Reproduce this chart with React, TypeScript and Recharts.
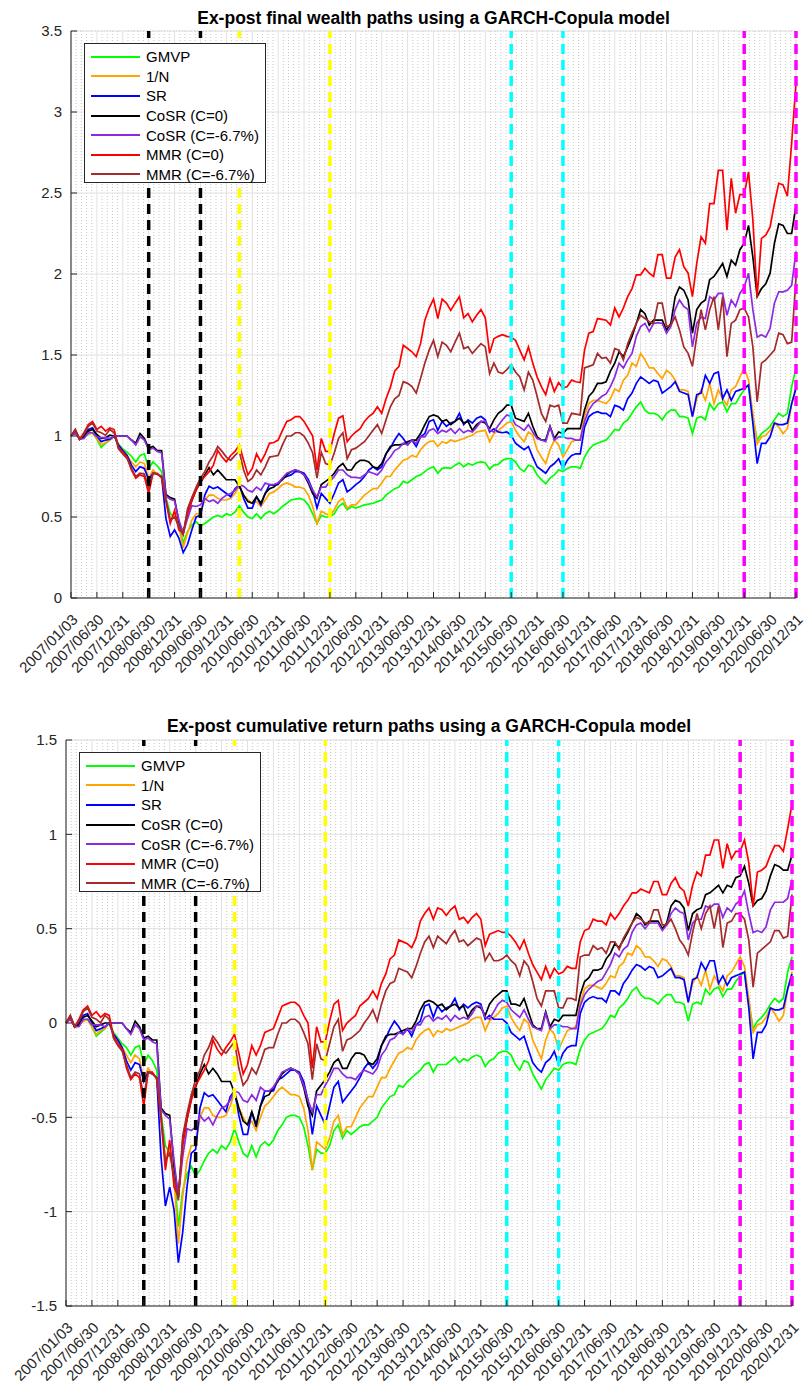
import React from "react";
import { LineChart, Line, XAxis, YAxis, CartesianGrid, ReferenceLine } from "recharts";

// one point per month: index 0 = 2007/01/03, then month ends up to 2020/12/31 (index 168)
const tickLabels = [
  "2007/01/03", "2007/06/30", "2007/12/31", "2008/06/30", "2008/12/31", "2009/06/30",
  "2009/12/31", "2010/06/30", "2010/12/31", "2011/06/30", "2011/12/31", "2012/06/30",
  "2012/12/31", "2013/06/30", "2013/12/31", "2014/06/30", "2014/12/31", "2015/06/30",
  "2015/12/31", "2016/06/30", "2016/12/31", "2017/06/30", "2017/12/31", "2018/06/30",
  "2018/12/31", "2019/06/30", "2019/12/31", "2020/06/30", "2020/12/31",
];

const seriesNames = ["GMVP", "1/N", "SR", "CoSR (C=0)", "CoSR (C=-6.7%)", "MMR (C=0)", "MMR (C=-6.7%)"];

// crisis windows (month index)
const gfcMonths = [18, 30];
const euroMonths = [39, 60];
const chinaMonths = [102, 114];
const covidMonths = [156, 168];

const wealthTicks = [0, 0.5, 1, 1.5, 2, 2.5, 3, 3.5];
const cumTicks = [-1.5, -1, -0.5, 0, 0.5, 1, 1.5];

// ---- final wealth (top panel)
const gmvpWealth = [1.00,
  1.03, 0.98, 0.995, 1.01, 1.02, 0.98, 0.93, 0.955, 0.975, 1.00, 0.95, 0.92,
  0.90, 0.875, 0.84, 0.88, 0.89, 0.80, 0.84, 0.815, 0.78, 0.62, 0.52, 0.50,
  0.46, 0.34, 0.41, 0.45, 0.47, 0.445, 0.46, 0.48, 0.50, 0.51, 0.50, 0.52,
  0.51, 0.53, 0.57, 0.53, 0.50, 0.49, 0.52, 0.49, 0.52, 0.535, 0.52, 0.54,
  0.565, 0.585, 0.605, 0.61, 0.615, 0.605, 0.575, 0.52, 0.46, 0.51, 0.50, 0.50,
  0.52, 0.565, 0.585, 0.545, 0.565, 0.555, 0.565, 0.575, 0.58, 0.585, 0.595, 0.605,
  0.635, 0.655, 0.675, 0.685, 0.72, 0.71, 0.73, 0.75, 0.76, 0.78, 0.80, 0.81,
  0.77, 0.80, 0.805, 0.80, 0.82, 0.835, 0.81, 0.83, 0.82, 0.835, 0.84, 0.835,
  0.795, 0.82, 0.825, 0.85, 0.86, 0.86, 0.84, 0.80, 0.78, 0.82, 0.81, 0.76,
  0.73, 0.705, 0.74, 0.76, 0.79, 0.78, 0.80, 0.81, 0.81, 0.80, 0.87, 0.915,
  0.945, 0.955, 0.965, 0.975, 1.005, 1.04, 1.035, 1.08, 1.10, 1.14, 1.18, 1.21,
  1.16, 1.14, 1.14, 1.13, 1.10, 1.14, 1.16, 1.16, 1.12, 1.12, 1.11, 1.015,
  1.11, 1.12, 1.10, 1.20, 1.16, 1.20, 1.21, 1.15, 1.20, 1.20, 1.245, 1.285,
  1.315, 1.12, 0.975, 1.015, 1.035, 1.06, 1.10, 1.14, 1.12, 1.14, 1.305, 1.42,
];
const equalWealth = [1.00,
  1.03, 0.98, 0.995, 1.015, 1.02, 0.985, 0.945, 0.96, 0.975, 1.00, 0.945, 0.91,
  0.88, 0.84, 0.81, 0.84, 0.83, 0.74, 0.79, 0.76, 0.75, 0.60, 0.48, 0.52,
  0.44, 0.31, 0.40, 0.48, 0.52, 0.52, 0.605, 0.635, 0.635, 0.615, 0.605, 0.605,
  0.615, 0.645, 0.69, 0.635, 0.605, 0.585, 0.595, 0.565, 0.605, 0.645, 0.655, 0.675,
  0.70, 0.71, 0.70, 0.685, 0.685, 0.675, 0.635, 0.565, 0.46, 0.535, 0.52, 0.51,
  0.545, 0.595, 0.615, 0.555, 0.575, 0.575, 0.605, 0.635, 0.655, 0.675, 0.675, 0.71,
  0.75, 0.75, 0.79, 0.82, 0.85, 0.86, 0.88, 0.87, 0.915, 0.945, 0.965, 0.97,
  0.935, 0.965, 0.955, 0.975, 0.965, 0.975, 0.985, 0.995, 1.005, 1.025, 1.03, 1.035,
  0.965, 1.015, 1.035, 1.055, 1.08, 1.09, 1.035, 0.995, 0.965, 1.025, 1.005, 0.915,
  0.87, 0.83, 0.915, 0.975, 0.945, 0.87, 0.915, 0.965, 0.975, 0.98, 1.12, 1.20,
  1.22, 1.22, 1.21, 1.20, 1.23, 1.29, 1.275, 1.345, 1.375, 1.45, 1.43, 1.51,
  1.47, 1.42, 1.42, 1.385, 1.355, 1.405, 1.385, 1.345, 1.285, 1.285, 1.275, 1.12,
  1.23, 1.285, 1.22, 1.325, 1.20, 1.285, 1.23, 1.19, 1.285, 1.305, 1.365, 1.42,
  1.345, 1.14, 0.95, 0.995, 1.005, 1.035, 1.08, 1.055, 1.015, 1.045, 1.20, 1.305,
];
const srWealth = [1.00,
  1.03, 0.98, 1.00, 1.04, 1.05, 1.00, 0.965, 0.975, 0.98, 1.00, 0.945, 0.91,
  0.88, 0.82, 0.78, 0.81, 0.80, 0.73, 0.77, 0.765, 0.75, 0.49, 0.38, 0.42,
  0.37, 0.28, 0.33, 0.42, 0.50, 0.51, 0.635, 0.69, 0.675, 0.685, 0.665, 0.645,
  0.625, 0.675, 0.70, 0.615, 0.555, 0.555, 0.625, 0.575, 0.645, 0.70, 0.695, 0.70,
  0.74, 0.75, 0.76, 0.78, 0.78, 0.77, 0.73, 0.665, 0.555, 0.645, 0.615, 0.585,
  0.645, 0.71, 0.73, 0.655, 0.675, 0.70, 0.72, 0.75, 0.79, 0.81, 0.79, 0.81,
  0.89, 0.925, 0.975, 1.015, 0.985, 0.945, 0.975, 0.935, 0.995, 1.015, 1.09, 1.10,
  1.035, 1.09, 1.06, 1.08, 1.09, 1.14, 1.07, 1.10, 1.08, 1.11, 1.12, 1.10,
  1.025, 1.045, 1.025, 1.02, 1.025, 1.005, 0.955, 0.935, 0.915, 0.935, 0.87, 0.81,
  0.79, 0.77, 0.81, 0.83, 0.86, 0.80, 0.85, 0.88, 0.89, 0.89, 1.055, 1.12,
  1.14, 1.15, 1.14, 1.14, 1.12, 1.19, 1.18, 1.16, 1.23, 1.265, 1.325, 1.365,
  1.345, 1.325, 1.345, 1.335, 1.265, 1.285, 1.305, 1.335, 1.275, 1.265, 1.255, 1.12,
  1.255, 1.265, 1.375, 1.325, 1.385, 1.395, 1.23, 1.285, 1.22, 1.275, 1.285, 1.295,
  1.315, 1.08, 0.83, 0.955, 0.955, 0.995, 1.08, 1.07, 1.07, 1.08, 1.20, 1.295,
];
const cosr0Wealth = [1.00,
  1.03, 0.98, 0.995, 1.03, 1.04, 1.01, 0.985, 0.99, 1.005, 1.00, 1.00, 1.00,
  1.00, 0.975, 0.955, 1.015, 0.985, 0.925, 0.935, 0.91, 0.91, 0.64, 0.62, 0.61,
  0.47, 0.40, 0.53, 0.60, 0.67, 0.71, 0.76, 0.805, 0.76, 0.79, 0.76, 0.73,
  0.73, 0.73, 0.69, 0.635, 0.595, 0.585, 0.625, 0.585, 0.645, 0.675, 0.685, 0.71,
  0.73, 0.76, 0.78, 0.79, 0.78, 0.76, 0.71, 0.645, 0.615, 0.70, 0.72, 0.74,
  0.77, 0.81, 0.83, 0.79, 0.79, 0.83, 0.85, 0.85, 0.84, 0.81, 0.80, 0.83,
  0.89, 0.935, 0.945, 0.945, 0.95, 0.965, 0.975, 0.975, 1.015, 1.07, 1.12, 1.13,
  1.12, 1.09, 1.10, 1.07, 1.09, 1.11, 1.08, 1.09, 1.035, 1.07, 1.09, 1.08,
  1.045, 1.10, 1.14, 1.16, 1.19, 1.19, 1.11, 1.10, 1.09, 1.14, 1.06, 0.995,
  0.975, 0.975, 1.06, 0.985, 1.025, 1.015, 1.045, 1.045, 1.045, 1.045, 1.16, 1.245,
  1.275, 1.325, 1.325, 1.335, 1.40, 1.45, 1.52, 1.49, 1.55, 1.615, 1.695, 1.78,
  1.755, 1.685, 1.715, 1.715, 1.715, 1.655, 1.695, 1.86, 1.92, 1.90, 1.84, 1.635,
  1.78, 1.82, 1.84, 1.965, 1.985, 2.025, 2.065, 1.985, 2.085, 2.055, 2.15, 2.19,
  2.30, 2.105, 1.86, 1.91, 1.94, 2.005, 2.19, 2.31, 2.30, 2.25, 2.25, 2.425,
];
const cosr67Wealth = [1.00,
  1.02, 0.98, 0.985, 1.02, 1.02, 0.995, 0.99, 0.99, 0.985, 1.00, 1.00, 1.00,
  1.00, 0.975, 0.945, 0.995, 0.975, 0.915, 0.925, 0.905, 0.895, 0.63, 0.61, 0.60,
  0.48, 0.40, 0.49, 0.57, 0.565, 0.575, 0.615, 0.595, 0.605, 0.585, 0.615, 0.635,
  0.645, 0.665, 0.70, 0.69, 0.665, 0.655, 0.685, 0.665, 0.71, 0.70, 0.70, 0.71,
  0.74, 0.77, 0.78, 0.79, 0.78, 0.76, 0.72, 0.665, 0.625, 0.685, 0.685, 0.72,
  0.75, 0.79, 0.79, 0.76, 0.745, 0.745, 0.74, 0.76, 0.78, 0.77, 0.76, 0.79,
  0.84, 0.87, 0.91, 0.925, 0.955, 0.945, 0.975, 0.955, 0.995, 0.995, 1.035, 1.045,
  1.015, 1.035, 1.025, 1.045, 1.015, 1.045, 1.02, 1.035, 1.025, 1.055, 1.09, 1.09,
  1.035, 1.025, 1.065, 1.10, 1.13, 1.12, 1.07, 1.055, 1.035, 1.07, 1.025, 0.985,
  0.975, 0.965, 1.055, 0.975, 0.995, 0.995, 0.985, 0.985, 0.975, 0.975, 1.09, 1.16,
  1.20, 1.22, 1.245, 1.26, 1.305, 1.365, 1.45, 1.42, 1.47, 1.51, 1.615, 1.675,
  1.695, 1.645, 1.695, 1.70, 1.695, 1.635, 1.675, 1.78, 1.84, 1.80, 1.78, 1.55,
  1.695, 1.735, 1.725, 1.86, 1.84, 1.88, 1.88, 1.745, 1.84, 1.80, 1.88, 1.92,
  2.005, 1.78, 1.61, 1.625, 1.61, 1.665, 1.82, 1.89, 1.89, 1.90, 1.93, 2.14,
];
const mmr0Wealth = [1.00,
  1.04, 0.98, 1.02, 1.07, 1.09, 1.04, 1.06, 1.03, 1.05, 1.04, 0.93, 0.90,
  0.87, 0.79, 0.74, 0.76, 0.75, 0.645, 0.77, 0.77, 0.74, 0.60, 0.46, 0.54,
  0.42, 0.40, 0.52, 0.60, 0.665, 0.72, 0.75, 0.78, 0.82, 0.91, 0.87, 0.84,
  0.88, 0.905, 0.945, 0.85, 0.76, 0.80, 0.89, 0.84, 0.89, 0.955, 0.96, 0.975,
  1.035, 1.09, 1.10, 1.12, 1.12, 1.09, 1.045, 1.00, 0.79, 0.985, 0.905, 0.905,
  1.015, 1.11, 1.125, 0.965, 1.00, 1.025, 1.045, 1.09, 1.12, 1.14, 1.18, 1.14,
  1.23, 1.30, 1.40, 1.43, 1.56, 1.54, 1.52, 1.49, 1.57, 1.715, 1.79, 1.845,
  1.725, 1.845, 1.82, 1.775, 1.82, 1.86, 1.73, 1.755, 1.705, 1.745, 1.78, 1.73,
  1.51, 1.60, 1.615, 1.625, 1.615, 1.61, 1.59, 1.53, 1.47, 1.55, 1.45, 1.365,
  1.305, 1.255, 1.355, 1.275, 1.33, 1.295, 1.305, 1.345, 1.335, 1.33, 1.53, 1.635,
  1.645, 1.725, 1.72, 1.715, 1.685, 1.79, 1.735, 1.79, 1.86, 1.91, 1.995, 1.995,
  2.035, 2.005, 1.985, 2.12, 2.12, 1.975, 1.975, 2.105, 2.15, 2.045, 2.005, 1.86,
  2.065, 2.23, 2.19, 2.435, 2.435, 2.64, 2.64, 2.27, 2.59, 2.375, 2.49, 2.49,
  2.63, 2.335, 1.86, 2.22, 2.24, 2.29, 2.435, 2.56, 2.55, 2.48, 2.81, 3.18,
];
const mmr67Wealth = [1.00,
  1.04, 0.98, 1.01, 1.06, 1.08, 1.03, 1.02, 1.005, 1.04, 1.02, 0.92, 0.89,
  0.86, 0.80, 0.75, 0.77, 0.765, 0.68, 0.77, 0.765, 0.75, 0.61, 0.48, 0.50,
  0.44, 0.39, 0.55, 0.62, 0.685, 0.74, 0.78, 0.84, 0.88, 0.935, 0.905, 0.87,
  0.85, 0.88, 0.905, 0.79, 0.72, 0.74, 0.79, 0.76, 0.81, 0.87, 0.875, 0.88,
  0.945, 1.00, 1.00, 1.02, 1.02, 1.00, 0.955, 0.895, 0.74, 0.90, 0.83, 0.82,
  0.895, 0.985, 1.02, 0.86, 0.915, 0.925, 0.945, 0.965, 1.00, 1.035, 1.07, 1.015,
  1.10, 1.18, 1.23, 1.25, 1.335, 1.325, 1.305, 1.265, 1.355, 1.45, 1.53, 1.59,
  1.49, 1.58, 1.56, 1.52, 1.58, 1.635, 1.54, 1.55, 1.51, 1.54, 1.57, 1.55,
  1.385, 1.45, 1.395, 1.385, 1.41, 1.44, 1.395, 1.365, 1.285, 1.395, 1.345, 1.245,
  1.14, 1.09, 1.19, 1.18, 1.19, 1.08, 1.08, 1.14, 1.135, 1.13, 1.42, 1.43,
  1.44, 1.51, 1.48, 1.485, 1.45, 1.54, 1.53, 1.47, 1.57, 1.635, 1.695, 1.745,
  1.725, 1.705, 1.695, 1.82, 1.82, 1.675, 1.685, 1.735, 1.655, 1.55, 1.51, 1.43,
  1.615, 1.78, 1.655, 1.78, 1.86, 1.655, 1.86, 1.49, 1.695, 1.715, 1.78, 1.79,
  1.735, 1.55, 1.21, 1.45, 1.47, 1.50, 1.53, 1.635, 1.625, 1.57, 1.58, 1.98,
];

// ---- cumulative return (bottom panel)
const gmvpCum = [0,
  0.03, -0.02, -0.01, 0.01, 0.02, -0.02, -0.07, -0.05, -0.03, 0.00, -0.05, -0.08,
  -0.11, -0.13, -0.17, -0.13, -0.12, -0.22, -0.17, -0.20, -0.25, -0.48, -0.65, -0.69,
  -0.78, -1.08, -0.89, -0.80, -0.76, -0.81, -0.78, -0.73, -0.69, -0.67, -0.69, -0.65,
  -0.67, -0.63, -0.56, -0.63, -0.69, -0.71, -0.65, -0.71, -0.65, -0.63, -0.65, -0.62,
  -0.57, -0.54, -0.50, -0.49, -0.49, -0.50, -0.55, -0.65, -0.78, -0.67, -0.69, -0.69,
  -0.65, -0.57, -0.54, -0.61, -0.57, -0.59, -0.57, -0.55, -0.54, -0.54, -0.52, -0.50,
  -0.45, -0.42, -0.39, -0.38, -0.33, -0.34, -0.31, -0.29, -0.27, -0.25, -0.22, -0.21,
  -0.26, -0.22, -0.22, -0.22, -0.20, -0.18, -0.21, -0.19, -0.20, -0.18, -0.17, -0.18,
  -0.23, -0.20, -0.19, -0.16, -0.15, -0.15, -0.17, -0.22, -0.25, -0.20, -0.21, -0.27,
  -0.31, -0.35, -0.30, -0.27, -0.24, -0.25, -0.22, -0.21, -0.21, -0.22, -0.14, -0.09,
  -0.06, -0.05, -0.04, -0.03, 0.00, 0.04, 0.03, 0.08, 0.10, 0.13, 0.17, 0.19,
  0.15, 0.13, 0.13, 0.12, 0.10, 0.13, 0.15, 0.15, 0.11, 0.11, 0.10, 0.01,
  0.10, 0.11, 0.10, 0.18, 0.15, 0.18, 0.19, 0.14, 0.18, 0.18, 0.22, 0.25,
  0.27, 0.11, -0.03, 0.01, 0.03, 0.06, 0.10, 0.13, 0.11, 0.13, 0.27, 0.35,
];
const equalCum = [0,
  0.03, -0.02, -0.01, 0.01, 0.02, -0.02, -0.06, -0.04, -0.03, 0.00, -0.06, -0.09,
  -0.13, -0.17, -0.21, -0.17, -0.19, -0.30, -0.24, -0.27, -0.29, -0.51, -0.73, -0.65,
  -0.82, -1.17, -0.92, -0.73, -0.65, -0.65, -0.50, -0.45, -0.45, -0.49, -0.50, -0.50,
  -0.49, -0.44, -0.37, -0.45, -0.50, -0.54, -0.52, -0.57, -0.50, -0.44, -0.42, -0.39,
  -0.36, -0.34, -0.36, -0.38, -0.38, -0.39, -0.45, -0.57, -0.78, -0.63, -0.65, -0.67,
  -0.61, -0.52, -0.49, -0.59, -0.55, -0.55, -0.50, -0.45, -0.42, -0.39, -0.39, -0.34,
  -0.29, -0.29, -0.24, -0.20, -0.16, -0.15, -0.13, -0.14, -0.09, -0.06, -0.04, -0.03,
  -0.07, -0.04, -0.05, -0.03, -0.04, -0.03, -0.02, -0.01, 0.00, 0.02, 0.03, 0.03,
  -0.04, 0.01, 0.03, 0.05, 0.08, 0.09, 0.03, -0.01, -0.04, 0.02, 0.00, -0.09,
  -0.14, -0.19, -0.09, -0.03, -0.06, -0.14, -0.09, -0.04, -0.03, -0.02, 0.11, 0.18,
  0.20, 0.20, 0.19, 0.18, 0.21, 0.25, 0.24, 0.30, 0.32, 0.37, 0.36, 0.41,
  0.39, 0.35, 0.35, 0.33, 0.30, 0.34, 0.33, 0.30, 0.25, 0.25, 0.24, 0.11,
  0.21, 0.25, 0.20, 0.28, 0.18, 0.25, 0.21, 0.17, 0.25, 0.27, 0.31, 0.35,
  0.30, 0.13, -0.05, -0.01, 0.00, 0.03, 0.08, 0.05, 0.01, 0.04, 0.18, 0.27,
];
const srCum = [0,
  0.03, -0.02, 0.00, 0.04, 0.05, 0.00, -0.04, -0.03, -0.02, 0.00, -0.06, -0.09,
  -0.13, -0.20, -0.25, -0.21, -0.22, -0.31, -0.26, -0.27, -0.29, -0.71, -0.97, -0.87,
  -0.99, -1.27, -1.11, -0.87, -0.69, -0.67, -0.45, -0.37, -0.39, -0.38, -0.41, -0.44,
  -0.47, -0.39, -0.36, -0.49, -0.59, -0.59, -0.47, -0.55, -0.44, -0.36, -0.36, -0.36,
  -0.30, -0.29, -0.27, -0.25, -0.25, -0.26, -0.31, -0.41, -0.59, -0.44, -0.49, -0.54,
  -0.44, -0.34, -0.31, -0.42, -0.39, -0.36, -0.33, -0.29, -0.24, -0.21, -0.24, -0.21,
  -0.12, -0.08, -0.03, 0.01, -0.02, -0.06, -0.03, -0.07, -0.01, 0.01, 0.09, 0.10,
  0.03, 0.09, 0.06, 0.08, 0.09, 0.13, 0.07, 0.10, 0.08, 0.10, 0.11, 0.10,
  0.02, 0.04, 0.02, 0.02, 0.02, 0.00, -0.05, -0.07, -0.09, -0.07, -0.14, -0.21,
  -0.24, -0.26, -0.21, -0.19, -0.15, -0.22, -0.16, -0.13, -0.12, -0.12, 0.05, 0.11,
  0.13, 0.14, 0.13, 0.13, 0.11, 0.17, 0.17, 0.15, 0.21, 0.24, 0.28, 0.31,
  0.30, 0.28, 0.30, 0.29, 0.24, 0.25, 0.27, 0.29, 0.24, 0.24, 0.23, 0.11,
  0.23, 0.24, 0.32, 0.28, 0.33, 0.33, 0.21, 0.25, 0.20, 0.24, 0.25, 0.26,
  0.27, 0.08, -0.19, -0.05, -0.05, -0.01, 0.08, 0.07, 0.07, 0.08, 0.18, 0.26,
];
const cosr0Cum = [0,
  0.03, -0.02, -0.01, 0.03, 0.04, 0.01, -0.02, -0.01, 0.00, 0.00, 0.00, 0.00,
  0.00, -0.03, -0.05, 0.01, -0.02, -0.08, -0.07, -0.09, -0.09, -0.45, -0.48, -0.49,
  -0.76, -0.92, -0.63, -0.51, -0.40, -0.34, -0.27, -0.22, -0.27, -0.24, -0.27, -0.31,
  -0.31, -0.31, -0.37, -0.45, -0.52, -0.54, -0.47, -0.54, -0.44, -0.39, -0.38, -0.34,
  -0.31, -0.27, -0.25, -0.24, -0.25, -0.27, -0.34, -0.44, -0.49, -0.36, -0.33, -0.30,
  -0.26, -0.21, -0.19, -0.24, -0.24, -0.19, -0.16, -0.16, -0.17, -0.21, -0.22, -0.19,
  -0.12, -0.07, -0.06, -0.06, -0.05, -0.04, -0.03, -0.03, 0.01, 0.07, 0.11, 0.12,
  0.11, 0.09, 0.10, 0.07, 0.09, 0.10, 0.08, 0.09, 0.03, 0.07, 0.09, 0.08,
  0.04, 0.10, 0.13, 0.15, 0.17, 0.17, 0.10, 0.10, 0.09, 0.13, 0.06, -0.01,
  -0.03, -0.03, 0.06, -0.02, 0.02, 0.01, 0.04, 0.04, 0.04, 0.04, 0.15, 0.22,
  0.24, 0.28, 0.28, 0.29, 0.34, 0.37, 0.42, 0.40, 0.44, 0.48, 0.53, 0.58,
  0.56, 0.52, 0.54, 0.54, 0.54, 0.50, 0.53, 0.62, 0.65, 0.64, 0.61, 0.49,
  0.58, 0.60, 0.61, 0.68, 0.69, 0.71, 0.73, 0.69, 0.73, 0.72, 0.77, 0.78,
  0.83, 0.74, 0.62, 0.65, 0.66, 0.70, 0.78, 0.84, 0.83, 0.81, 0.81, 0.89,
];
const cosr67Cum = [0,
  0.02, -0.02, -0.02, 0.02, 0.02, -0.01, -0.01, -0.01, -0.02, 0.00, 0.00, 0.00,
  0.00, -0.03, -0.06, -0.01, -0.03, -0.09, -0.08, -0.10, -0.11, -0.46, -0.49, -0.51,
  -0.73, -0.92, -0.71, -0.56, -0.57, -0.55, -0.49, -0.52, -0.50, -0.54, -0.49, -0.45,
  -0.44, -0.41, -0.36, -0.37, -0.41, -0.42, -0.38, -0.41, -0.34, -0.36, -0.36, -0.34,
  -0.30, -0.26, -0.25, -0.24, -0.25, -0.27, -0.33, -0.41, -0.47, -0.38, -0.38, -0.33,
  -0.29, -0.24, -0.24, -0.27, -0.29, -0.29, -0.30, -0.27, -0.25, -0.26, -0.27, -0.24,
  -0.17, -0.14, -0.09, -0.08, -0.05, -0.06, -0.03, -0.05, -0.01, -0.01, 0.03, 0.04,
  0.01, 0.03, 0.02, 0.04, 0.01, 0.04, 0.02, 0.03, 0.02, 0.05, 0.09, 0.09,
  0.03, 0.02, 0.06, 0.10, 0.12, 0.11, 0.07, 0.05, 0.03, 0.07, 0.02, -0.02,
  -0.03, -0.04, 0.05, -0.03, -0.01, -0.01, -0.02, -0.02, -0.03, -0.03, 0.09, 0.15,
  0.18, 0.20, 0.22, 0.23, 0.27, 0.31, 0.37, 0.35, 0.39, 0.41, 0.48, 0.52,
  0.53, 0.50, 0.53, 0.53, 0.53, 0.49, 0.52, 0.58, 0.61, 0.59, 0.58, 0.44,
  0.53, 0.55, 0.55, 0.62, 0.61, 0.63, 0.63, 0.56, 0.61, 0.59, 0.63, 0.65,
  0.70, 0.58, 0.48, 0.49, 0.48, 0.51, 0.60, 0.64, 0.64, 0.64, 0.66, 0.76,
];
const mmr0Cum = [0,
  0.04, -0.02, 0.02, 0.07, 0.09, 0.04, 0.06, 0.03, 0.05, 0.04, -0.07, -0.11,
  -0.14, -0.24, -0.30, -0.27, -0.29, -0.44, -0.26, -0.26, -0.30, -0.51, -0.78, -0.62,
  -0.87, -0.92, -0.65, -0.51, -0.41, -0.33, -0.29, -0.25, -0.20, -0.09, -0.14, -0.17,
  -0.13, -0.10, -0.06, -0.16, -0.27, -0.22, -0.12, -0.17, -0.12, -0.05, -0.04, -0.03,
  0.03, 0.09, 0.10, 0.11, 0.11, 0.09, 0.04, 0.00, -0.24, -0.02, -0.10, -0.10,
  0.01, 0.10, 0.12, -0.04, 0.00, 0.02, 0.04, 0.09, 0.11, 0.13, 0.17, 0.13,
  0.21, 0.26, 0.34, 0.36, 0.44, 0.43, 0.42, 0.40, 0.45, 0.54, 0.58, 0.61,
  0.55, 0.61, 0.60, 0.57, 0.60, 0.62, 0.55, 0.56, 0.53, 0.56, 0.58, 0.55,
  0.41, 0.47, 0.48, 0.49, 0.48, 0.48, 0.46, 0.43, 0.39, 0.44, 0.37, 0.31,
  0.27, 0.23, 0.30, 0.24, 0.29, 0.26, 0.27, 0.30, 0.29, 0.29, 0.43, 0.49,
  0.50, 0.55, 0.54, 0.54, 0.52, 0.58, 0.55, 0.58, 0.62, 0.65, 0.69, 0.69,
  0.71, 0.70, 0.69, 0.75, 0.75, 0.68, 0.68, 0.74, 0.77, 0.72, 0.70, 0.62,
  0.73, 0.80, 0.78, 0.89, 0.89, 0.97, 0.97, 0.82, 0.95, 0.87, 0.91, 0.91,
  0.97, 0.85, 0.62, 0.80, 0.81, 0.83, 0.89, 0.94, 0.94, 0.91, 1.03, 1.16,
];
const mmr67Cum = [0,
  0.04, -0.02, 0.01, 0.06, 0.08, 0.03, 0.02, 0.00, 0.04, 0.02, -0.08, -0.12,
  -0.15, -0.22, -0.29, -0.26, -0.27, -0.39, -0.26, -0.27, -0.29, -0.49, -0.73, -0.69,
  -0.82, -0.94, -0.60, -0.48, -0.38, -0.30, -0.25, -0.17, -0.13, -0.07, -0.10, -0.14,
  -0.16, -0.13, -0.10, -0.24, -0.33, -0.30, -0.24, -0.27, -0.21, -0.14, -0.13, -0.13,
  -0.06, 0.00, 0.00, 0.02, 0.02, 0.00, -0.05, -0.11, -0.30, -0.11, -0.19, -0.20,
  -0.11, -0.02, 0.02, -0.15, -0.09, -0.08, -0.06, -0.04, 0.00, 0.03, 0.07, 0.01,
  0.10, 0.17, 0.21, 0.22, 0.29, 0.28, 0.27, 0.24, 0.30, 0.37, 0.43, 0.46,
  0.40, 0.46, 0.44, 0.42, 0.46, 0.49, 0.43, 0.44, 0.41, 0.43, 0.45, 0.44,
  0.33, 0.37, 0.33, 0.33, 0.34, 0.36, 0.33, 0.31, 0.25, 0.33, 0.30, 0.22,
  0.13, 0.09, 0.17, 0.17, 0.17, 0.08, 0.08, 0.13, 0.13, 0.12, 0.35, 0.36,
  0.36, 0.41, 0.39, 0.40, 0.37, 0.43, 0.43, 0.39, 0.45, 0.49, 0.53, 0.56,
  0.55, 0.53, 0.53, 0.60, 0.60, 0.52, 0.52, 0.55, 0.50, 0.44, 0.41, 0.36,
  0.48, 0.58, 0.50, 0.58, 0.62, 0.50, 0.62, 0.40, 0.53, 0.54, 0.58, 0.58,
  0.55, 0.44, 0.19, 0.37, 0.39, 0.41, 0.43, 0.49, 0.49, 0.45, 0.46, 0.68,
];

const COLORS = ["#00ff00", "#ffa500", "#0000ff", "#000000", "#8a2be2", "#ff0000", "#a52a2a"];
const KEYS = ["gmvp", "equal", "sr", "cosr0", "cosr67", "mmr0", "mmr67"];
const EVENT_COLORS = ["#000000", "#ffff00", "#00ffff", "#ff00ff"];
const FONT = '"Liberation Sans", Arial, Helvetica, sans-serif';
const AXIS = "#262626";

function buildRows(cols: number[][]) {
  return cols[0].map((_, i) => {
    const row: Record<string, number> = { t: i };
    KEYS.forEach((k, j) => (row[k] = cols[j][i]));
    return row;
  });
}

const wealthRows = buildRows([gmvpWealth, equalWealth, srWealth, cosr0Wealth, cosr67Wealth, mmr0Wealth, mmr67Wealth]);
const cumRows = buildRows([gmvpCum, equalCum, srCum, cosr0Cum, cosr67Cum, mmr0Cum, mmr67Cum]);

const xMajor = tickLabels.map((_, i) => i * 6);
const xMinor: number[] = [];
for (let k = 0; k < 28; k++) for (let m = 1; m < 5; m++) xMinor.push(k * 6 + m * 1.2);

function minorY(lo: number, hi: number) {
  const out: number[] = [];
  for (let v = Math.round(lo * 10); v <= Math.round(hi * 10); v++) {
    if (v % 5 !== 0) out.push(v / 10);
  }
  return out;
}

const XTick = (props: any) => {
  const { x, y, payload } = props;
  const label = tickLabels[Math.round(payload.value / 6)];
  return (
    <g>
      <line x1={x} y1={y} x2={x} y2={y - 6} stroke={AXIS} strokeWidth={1} />
      <g transform={`translate(${x + 4},${y + 19})`}>
        <text x={0} y={0} dy="0.35em" textAnchor="end" transform="rotate(-45)"
          fontFamily={FONT} fontSize={15} fill={AXIS}>{label}</text>
      </g>
    </g>
  );
};

const YTick = (props: any) => {
  const { x, y, payload } = props;
  return (
    <g>
      <line x1={x} y1={y} x2={x + 6} y2={y} stroke={AXIS} strokeWidth={1} />
      <text x={x - 9} y={y} dy="0.35em" textAnchor="end" fontFamily={FONT} fontSize={15} fill={AXIS}>
        {String(payload.value)}
      </text>
    </g>
  );
};

function LegendBox({ left, top }: { left: number; top: number }) {
  return (
    <div style={{
      position: "absolute", left, top, width: 182, height: 140, boxSizing: "border-box",
      border: `1px solid ${AXIS}`, background: "#fff", paddingTop: 3, fontFamily: FONT, fontSize: 15,
    }}>
      {seriesNames.map((n, i) => (
        <div key={n} style={{ height: 19.6, display: "flex", alignItems: "center" }}>
          <div style={{ marginLeft: 6, width: 49, height: 0, borderTop: `2px solid ${COLORS[i]}` }} />
          <span style={{ marginLeft: 6, color: "#000", whiteSpace: "nowrap" }}>{n}</span>
        </div>
      ))}
    </div>
  );
}

function Panel(props: any) {
  const { title, rows, yDomain, yTicks, geom } = props;
  const plotW = 805 - geom.left - 40 - geom.right;
  const events = [gfcMonths, euroMonths, chinaMonths, covidMonths];
  return (
    <div style={{ position: "relative", width: 805, height: geom.height }}>
      <LineChart width={805} height={geom.height} data={rows}
        margin={{ top: geom.top, right: geom.right, left: geom.left, bottom: 0 }}>
        <XAxis xAxisId="minor" dataKey="t" type="number" domain={[0, 168]} ticks={xMinor} interval={0} hide />
        <YAxis yAxisId="minor" type="number" domain={yDomain} ticks={minorY(yDomain[0], yDomain[1])} interval={0} hide />
        <CartesianGrid xAxisId="minor" yAxisId="minor" stroke="#c8c8c8" strokeDasharray="1 2" />
        <CartesianGrid stroke="#e1e1e1" />
        <XAxis dataKey="t" type="number" domain={[0, 168]} ticks={xMajor} interval={0}
          height={geom.xAxisHeight} tickSize={0} tickMargin={0} tickLine={false}
          axisLine={{ stroke: AXIS }} tick={<XTick />} />
        <YAxis type="number" domain={yDomain} ticks={yTicks} interval={0} width={40}
          tickSize={0} tickMargin={0} tickLine={false} axisLine={{ stroke: AXIS }} tick={<YTick />} />
        {KEYS.map((k, i) => (
          <Line key={k} dataKey={k} type="linear" stroke={COLORS[i]} strokeWidth={1.7}
            dot={false} activeDot={false} isAnimationActive={false} />
        ))}
        {events.map((pair, j) =>
          pair.map((m) => (
            <ReferenceLine key={`${j}-${m}`} x={m} stroke={EVENT_COLORS[j]} strokeWidth={3.5}
              strokeDasharray="10 6" />
          ))
        )}
      </LineChart>
      <div style={{
        position: "absolute", left: geom.left + 40, width: plotW, top: geom.titleTop, textAlign: "center",
        fontFamily: FONT, fontWeight: "bold", fontSize: 17.5, lineHeight: "20px", color: "#000",
      }}>{title}</div>
      <LegendBox left={geom.left + 40 + 13} top={geom.top + 12} />
    </div>
  );
}

export default function App() {
  return (
    <div style={{ width: 805, height: 1390, background: "#fff", position: "relative" }}>
      <style>{"body{margin:0;background:#fff}"}</style>
      <Panel title="Ex-post final wealth paths using a GARCH-Copula model" rows={wealthRows}
        yDomain={[0, 3.5]} yTicks={wealthTicks}
        geom={{ height: 700, top: 31, right: 9, left: 31, xAxisHeight: 102, titleTop: 8 }} />
      <Panel title="Ex-post cumulative return paths using a GARCH-Copula model" rows={cumRows}
        yDomain={[-1.5, 1.5]} yTicks={cumTicks}
        geom={{ height: 690, top: 40, right: 13, left: 26, xAxisHeight: 84, titleTop: 16 }} />
    </div>
  );
}
